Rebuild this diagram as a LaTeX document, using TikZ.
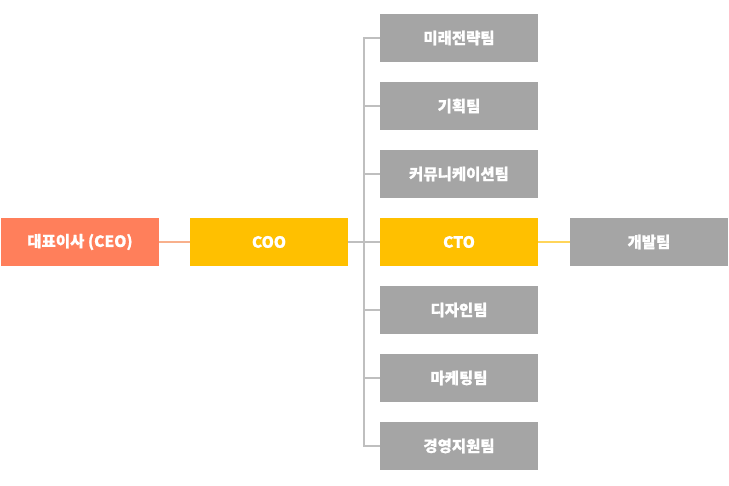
\documentclass[tikz,border=0pt]{standalone}
\usepackage{fontspec}
\newfontfamily\kr[BoldFeatures={FakeBold=0.8}]{Noto Sans CJK KR}
\definecolor{ceo}{HTML}{FF7F5B}
\definecolor{gold}{HTML}{FFC000}
\definecolor{team}{HTML}{A5A5A5}
\definecolor{conn}{HTML}{BFBFBF}
\definecolor{ceoline}{HTML}{F8B08C}
\definecolor{ctoline}{HTML}{FFD55A}
\begin{document}
\begin{tikzpicture}[x=1pt,y=-1pt,
  box/.style={minimum width=158pt,minimum height=48pt,inner sep=0pt,text=white,font=\kr\bfseries\fontsize{15.5}{17}\selectfont},
  ceobox/.style={box,fill=ceo},
  goldbox/.style={box,fill=gold},
  teambox/.style={box,fill=team},
  link/.style={draw=conn,line width=1.3pt}]
\useasboundingbox[fill=white] (0,0) rectangle (729,486);
\node[ceobox] (ceo) at (80,242) {대표이사 (CEO)};
\node[goldbox] (coo) at (269,242) {COO};
\node[goldbox] (cto) at (459,242) {CTO};
\node[teambox] (dev) at (649,242) {개발팀};
\node[teambox] (t1) at (459,38) {미래전략팀};
\node[teambox] (t2) at (459,106) {기획팀};
\node[teambox] (t3) at (459,174) {커뮤니케이션팀};
\node[teambox] (t5) at (459,310) {디자인팀};
\node[teambox] (t6) at (459,378) {마케팅팀};
\node[teambox] (t7) at (459,446) {경영지원팀};
\coordinate (bus) at (364,242);
\draw[draw=ceoline,line width=1.3pt] (ceo.east) -- (coo.west);
\draw[draw=ctoline,line width=1.3pt] (cto.east) -- (dev.west);
\draw[link] (coo.east) -- (cto.west);
\draw[link] (t1.west) -| (bus |- t7.west) -- (t7.west);
\foreach \t in {t2,t3,t5,t6}{\draw[link] (\t.west) -- (bus |- \t.west);}
\end{tikzpicture}
\end{document}
